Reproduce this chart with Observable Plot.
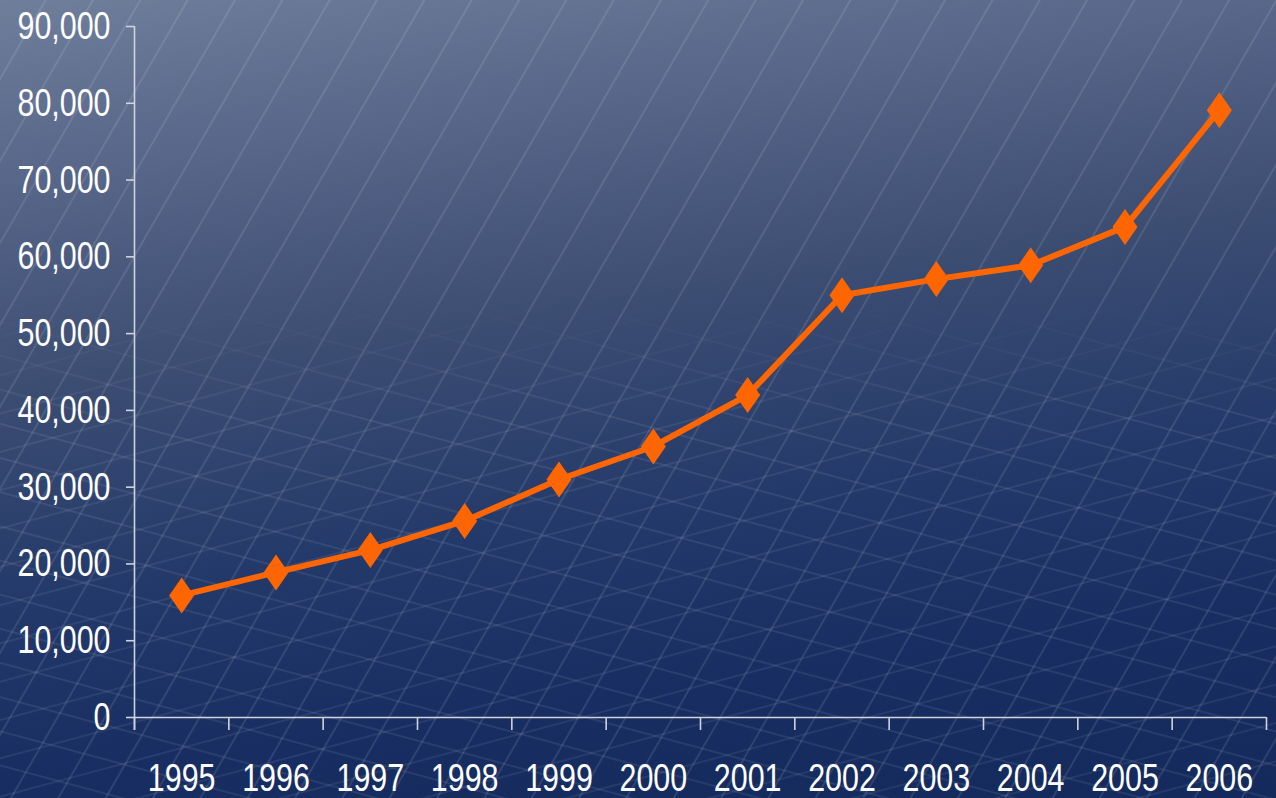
<!DOCTYPE html>
<html>
<head>
<meta charset="utf-8">
<script src="https://cdn.jsdelivr.net/npm/d3@7"></script>
<script src="https://cdn.jsdelivr.net/npm/@observablehq/plot@0.6"></script>
<style>
  html, body { margin: 0; padding: 0; }
  body {
    width: 1276px; height: 798px; overflow: hidden;
    background:
      repeating-linear-gradient(120deg, rgba(255,255,255,0) 0px, rgba(255,255,255,0) 38px, rgba(255,255,255,0.10) 39px, rgba(255,255,255,0.10) 40px, rgba(255,255,255,0) 41px),
      linear-gradient(172deg, #6f7e9a 0%, #58678a 18%, #3c4d72 40%, #23396a 62%, #182e62 80%, #142a5c 100%);
  }
  #mesh {
    position: absolute; left: 0; top: 300px; width: 1276px; height: 498px;
    background:
      repeating-linear-gradient(15deg, rgba(255,255,255,0) 0px, rgba(255,255,255,0) 30px, rgba(255,255,255,0.08) 31px, rgba(255,255,255,0.08) 32px, rgba(255,255,255,0) 33px),
      repeating-linear-gradient(-15deg, rgba(255,255,255,0) 0px, rgba(255,255,255,0) 34px, rgba(255,255,255,0.07) 35px, rgba(255,255,255,0.07) 36px, rgba(255,255,255,0) 37px);
    -webkit-mask-image: linear-gradient(180deg, rgba(0,0,0,0) 0%, rgba(0,0,0,1) 25%, rgba(0,0,0,1) 100%);
    mask-image: linear-gradient(180deg, rgba(0,0,0,0) 0%, rgba(0,0,0,1) 25%, rgba(0,0,0,1) 100%);
  }
  #chart { position: absolute; left: 0; top: 0; }
</style>
</head>
<body>
<div id="mesh"></div>
<div id="chart"></div>
<script>
const years = [1995, 1996, 1997, 1998, 1999, 2000, 2001, 2002, 2003, 2004, 2005, 2006];
const values = [15900, 18900, 21800, 25600, 31000, 35300, 42000, 55000, 57100, 58900, 63900, 79100];
const yTicks = [0, 10000, 20000, 30000, 40000, 50000, 60000, 70000, 80000, 90000];
const boundaries = [1994.5, 1995.5, 1996.5, 1997.5, 1998.5, 1999.5, 2000.5, 2001.5, 2002.5, 2003.5, 2004.5, 2005.5, 2006.5];

const data = years.map((y, i) => ({year: y, value: values[i]}));

const orange = "#ff6600";
const axisColor = "#cfd3dc";

const tallDiamond = {
  draw(context) {
    const w = 12.5, h = 18;
    context.moveTo(0, -h);
    context.lineTo(w, 0);
    context.lineTo(0, h);
    context.lineTo(-w, 0);
    context.closePath();
  }
};

const chart = Plot.plot({
  width: 1276,
  height: 798,
  marginLeft: 134,
  marginRight: 10,
  marginTop: 26,
  marginBottom: 81,
  style: {background: "transparent", color: "#ffffff", fontFamily: "'Liberation Sans', Arial, sans-serif", fontSize: "39px"},
  x: {type: "linear", domain: [1994.5, 2006.5]},
  y: {domain: [0, 90000]},
  marks: [
    Plot.ruleY([0], {stroke: axisColor, strokeWidth: 1.6}),
    Plot.ruleX([1994.5], {y1: -1700, y2: 90000, stroke: axisColor, strokeWidth: 1.6}),
    Plot.axisY({ticks: yTicks, tickSize: 8, tickPadding: 16, stroke: axisColor, strokeWidth: 1.6, tickFormat: d3.format(","), fill: "#ffffff", label: null}),
    Plot.axisX({ticks: boundaries, tickSize: 13, stroke: axisColor, strokeWidth: 1.6, tickFormat: () => "", label: null}),
    Plot.axisX({ticks: years, tickSize: 0, tickPadding: 46, tickFormat: d => String(d), fill: "#ffffff", label: null}),
    Plot.line(data, {x: "year", y: "value", stroke: orange, strokeWidth: 6, strokeLinejoin: "round"}),
    Plot.dot(data, {x: "year", y: "value", symbol: tallDiamond, fill: orange, stroke: "none", r: 10})
  ]
});

document.getElementById("chart").appendChild(chart);

// condense tick labels horizontally, as in the reference
const sx = 0.78;
chart.querySelectorAll("text").forEach(t => {
  const xAttr = t.getAttribute("x");
  const tr = t.getAttribute("transform");
  if (xAttr !== null) {
    const x = parseFloat(xAttr) || 0;
    t.setAttribute("transform", (tr ? tr + " " : "") + `translate(${x},0) scale(${sx},1) translate(${-x},0)`);
  } else {
    t.setAttribute("transform", (tr ? tr + " " : "") + `scale(${sx},1)`);
  }
});
</script>
</body>
</html>
